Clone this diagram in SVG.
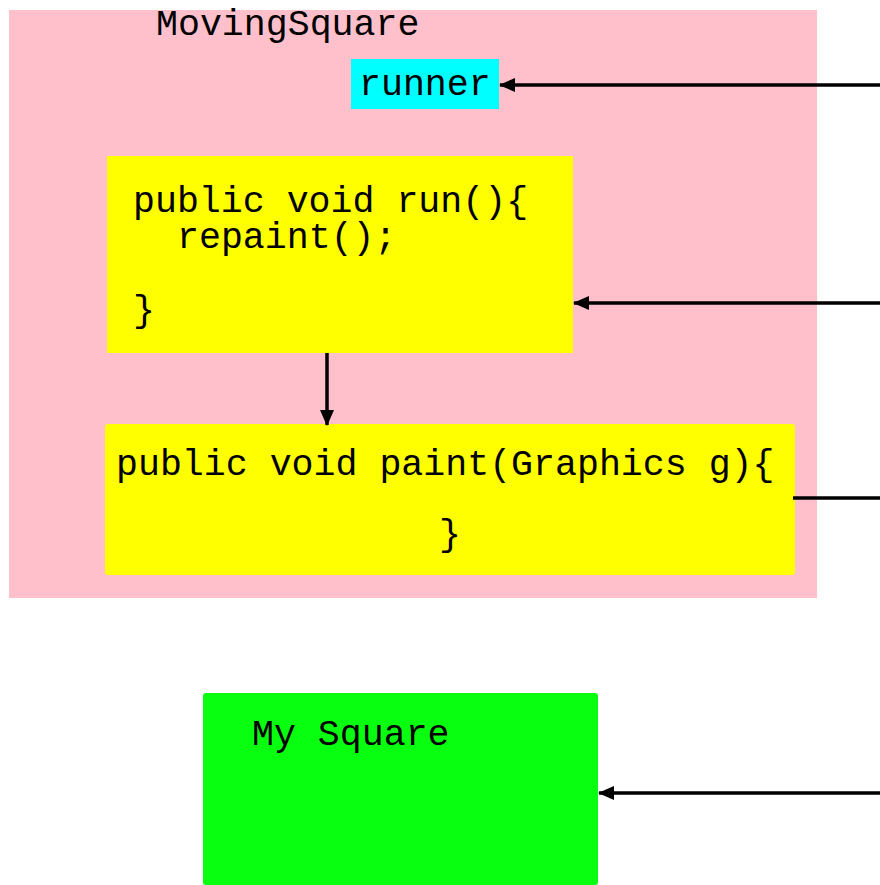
<svg xmlns="http://www.w3.org/2000/svg" width="880" height="885" viewBox="0 0 880 885">
  <style>
    text { font-family: "Courier New", "Nimbus Mono PS", "FreeMono", "Liberation Mono", monospace; font-size: 36.6px; fill: #000; }
    .wire { stroke: #000; stroke-width: 3.5; fill: none; }
  </style>
  <defs>
    <marker id="arrow" viewBox="0 0 16 14" refX="15" refY="7" markerWidth="16" markerHeight="14" markerUnits="userSpaceOnUse" orient="auto">
      <path d="M0,0 L16,7 L0,14 Z" fill="#000"/>
    </marker>
  </defs>

  <rect width="880" height="885" fill="#fff"/>

  <!-- applet container -->
  <g id="movingSquare">
    <rect x="9" y="10" width="808" height="588" fill="#FFC0CB"/>
    <text x="156" y="35">MovingSquare</text>
  </g>

  <g id="runner">
    <rect x="351" y="59" width="148" height="50" fill="#00FFFF"/>
    <text x="359" y="95">runner</text>
  </g>

  <g id="run">
    <rect x="107" y="156" width="466" height="197" fill="#FFFF00"/>
    <text x="133" y="212">public void run(){</text>
    <text x="177" y="248">repaint();</text>
    <text x="133" y="321">}</text>
  </g>

  <g id="paint">
    <rect x="105" y="424" width="690" height="151" rx="3" fill="#FFFF00"/>
    <text x="116" y="475">public void paint(Graphics g){</text>
    <text x="439" y="545">}</text>
  </g>

  <g id="mySquare">
    <rect x="203" y="693" width="395" height="192" rx="3" fill="#08FF10"/>
    <text x="252" y="745">My Square</text>
  </g>

  <!-- connectors -->
  <g id="connectors">
    <line class="wire" x1="880" y1="85" x2="500" y2="85" marker-end="url(#arrow)"/>
    <line class="wire" x1="880" y1="303" x2="574" y2="303" marker-end="url(#arrow)"/>
    <line class="wire" x1="327" y1="353" x2="327" y2="425" marker-end="url(#arrow)"/>
    <line class="wire" x1="793" y1="498" x2="880" y2="498"/>
    <line class="wire" x1="880" y1="793" x2="599" y2="793" marker-end="url(#arrow)"/>
  </g>
</svg>
